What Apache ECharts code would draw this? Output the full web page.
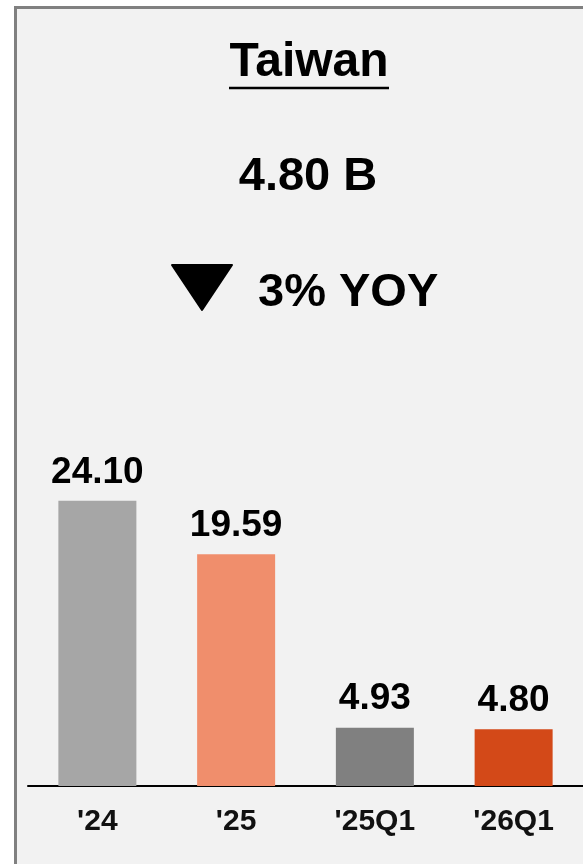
<!DOCTYPE html>
<html>
<head>
<meta charset="utf-8">
<script src="https://cdn.jsdelivr.net/npm/echarts@6/dist/echarts.min.js"></script>
<style>
  html, body { margin: 0; padding: 0; background: #fff; }
  #main { width: 583px; height: 864px; }
</style>
</head>
<body>
<div id="main"></div>
<script>
// 数据
var categories = ["'24", "'25", "'25Q1", "'26Q1"];
var values = [24.10, 19.59, 4.93, 4.80];
var barColors = ['#a6a6a6', '#f08e6c', '#808080', '#d34918'];
var titleText = 'Taiwan';
var totalText = '4.80 B';
var yoyText = '3% YOY';

var FONT = '"Liberation Sans", Arial, sans-serif';

function chart() {
  var myChart = echarts.init(document.getElementById('main'));
  var option = {
    backgroundColor: '#ffffff',
    animation: false,
    grid: {
      left: 28,
      right: 0,
      top: 431,
      bottom: 78
    },
    xAxis: {
      type: 'category',
      data: categories,
      axisLine: { lineStyle: { color: '#000', width: 2 } },
      axisTick: { show: false },
      axisLabel: {
        margin: 21,
        color: '#111',
        fontSize: 30,
        fontWeight: 'bold',
        fontFamily: FONT
      }
    },
    yAxis: {
      type: 'value',
      min: 0,
      max: 30,
      show: false,
      splitLine: { show: false }
    },
    graphic: [
      // 背景和边框
      {
        type: 'rect',
        z: -10,
        silent: true,
        shape: { x: 15.5, y: 7.5, width: 600, height: 900 },
        style: { fill: '#f2f2f2', stroke: '#808080', lineWidth: 3 }
      },
      {
        type: 'text',
        x: 309, y: 63,
        style: {
          text: titleText,
          fill: '#000',
          font: 'bold 48px ' + FONT,
          textAlign: 'center',
          textVerticalAlign: 'middle'
        }
      },
      {
        type: 'line',
        shape: { x1: 229, y1: 88, x2: 389, y2: 88 },
        style: { stroke: '#000', lineWidth: 2.5 }
      },
      {
        type: 'text',
        x: 308, y: 177,
        style: {
          text: totalText,
          fill: '#000',
          font: 'bold 47px ' + FONT,
          textAlign: 'center',
          textVerticalAlign: 'middle'
        }
      },
      {
        type: 'polygon',
        shape: { points: [[172, 265], [232, 265], [202, 310]] },
        style: { fill: '#000', stroke: '#000', lineWidth: 2, lineJoin: 'round' }
      },
      {
        type: 'text',
        x: 258, y: 293,
        style: {
          text: yoyText,
          fill: '#000',
          font: 'bold 47px ' + FONT,
          textAlign: 'left',
          textVerticalAlign: 'middle'
        }
      }
    ],
    series: [
      {
        type: 'bar',
        barWidth: 78,
        data: values.map(function (v, i) {
          return { value: v, itemStyle: { color: barColors[i] } };
        }),
        label: {
          show: true,
          position: 'top',
          distance: 10,
          color: '#000',
          fontSize: 37,
          fontWeight: 'bold',
          fontFamily: FONT,
          formatter: function (p) { return p.value.toFixed(2); }
        }
      }
    ]
  };
  myChart.setOption(option);
}

window.onload = function () {
  chart();
};
</script>
</body>
</html>
